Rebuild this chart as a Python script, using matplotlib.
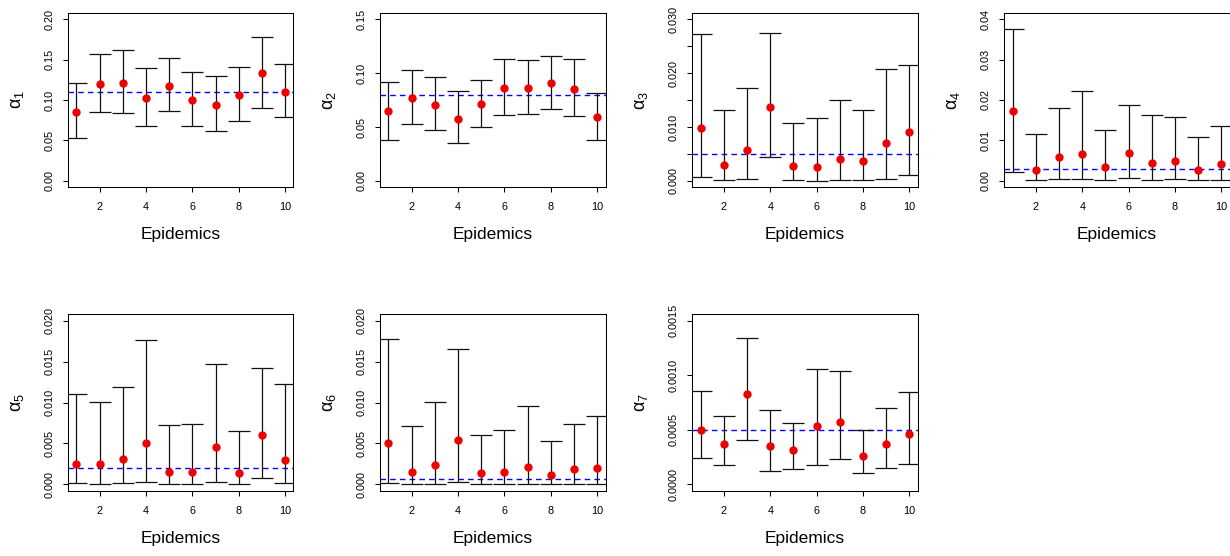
import numpy as np
import matplotlib
matplotlib.use("Agg")
import matplotlib.pyplot as plt

plt.rcParams['font.family'] = ['Liberation Sans', 'DejaVu Sans']

epidemics = np.arange(1, 11)

est_a1 = [0.0848, 0.1193, 0.1214, 0.1029, 0.1177, 0.1000, 0.0942, 0.1058, 0.1329, 0.1103]
lo_a1 = [0.0527, 0.0856, 0.0840, 0.0683, 0.0868, 0.0679, 0.0621, 0.0741, 0.0901, 0.0786]
hi_a1 = [0.1206, 0.1572, 0.1621, 0.1399, 0.1514, 0.1342, 0.1300, 0.1403, 0.1778, 0.1449]

est_a2 = [0.0645, 0.0769, 0.0704, 0.0577, 0.0716, 0.0861, 0.0858, 0.0904, 0.0849, 0.0596]
lo_a2 = [0.0383, 0.0528, 0.0475, 0.0352, 0.0500, 0.0611, 0.0620, 0.0667, 0.0599, 0.0380]
hi_a2 = [0.0914, 0.1025, 0.0960, 0.0830, 0.0938, 0.1133, 0.1117, 0.1160, 0.1130, 0.0818]

est_a3 = [0.00975, 0.00296, 0.00580, 0.01377, 0.00272, 0.00265, 0.00407, 0.00370, 0.00698, 0.00901]
lo_a3 = [0.00074, 0.00012, 0.00037, 0.00438, 0.00012, 0.00006, 0.00012, 0.00012, 0.00043, 0.00111]
hi_a3 = [0.02716, 0.01309, 0.01716, 0.02741, 0.01074, 0.01160, 0.01506, 0.01321, 0.02080, 0.02148]

est_a4 = [0.0172, 0.0028, 0.0060, 0.00675, 0.00354, 0.00683, 0.00444, 0.00494, 0.00263, 0.00412]
lo_a4 = [0.0023, 0.00016, 0.00041, 0.00033, 0.00016, 0.00058, 0.00025, 0.00033, 0.00016, 0.00025]
hi_a4 = [0.03745, 0.01169, 0.01802, 0.02222, 0.01267, 0.01868, 0.01630, 0.01572, 0.01086, 0.01366]

est_a5 = [0.00248, 0.00252, 0.00306, 0.00508, 0.00149, 0.00149, 0.00459, 0.00140, 0.00599, 0.00293]
lo_a5 = [0.00012, 0.00008, 0.00012, 0.00025, 0.00004, 0.00004, 0.00025, 0.00004, 0.00070, 0.00012]
hi_a5 = [0.01099, 0.01008, 0.01186, 0.01764, 0.00719, 0.00731, 0.01467, 0.00653, 0.01426, 0.01227]

est_a6 = [0.00508, 0.00153, 0.00240, 0.00537, 0.00140, 0.00145, 0.00215, 0.00112, 0.00186, 0.00194]
lo_a6 = [0.00020, 0.00004, 0.00008, 0.00025, 0.00004, 0.00004, 0.00008, 0.00004, 0.00004, 0.00004]
hi_a6 = [0.01781, 0.00711, 0.01008, 0.01657, 0.00603, 0.00661, 0.00955, 0.00529, 0.00731, 0.00835]

est_a7 = [0.000502, 0.000366, 0.000831, 0.000353, 0.000316, 0.000536, 0.000570, 0.000260, 0.000372, 0.000462]
lo_a7 = [0.000239, 0.000177, 0.000409, 0.000124, 0.000143, 0.000174, 0.000232, 0.000102, 0.000146, 0.000186]
hi_a7 = [0.000855, 0.000629, 0.001342, 0.000685, 0.000561, 0.001054, 0.001035, 0.000499, 0.000697, 0.000843]

true_values = [0.11, 0.08, 0.005, 0.003, 0.002, 0.0006, 0.0005]
y_max = [0.20, 0.15, 0.030, 0.04, 0.020, 0.020, 0.0015]
y_ticks = [
    [0.00, 0.05, 0.10, 0.15, 0.20],
    [0.00, 0.05, 0.10, 0.15],
    [0.000, 0.005, 0.010, 0.015, 0.020, 0.025, 0.030],
    [0.00, 0.01, 0.02, 0.03, 0.04],
    [0.000, 0.005, 0.010, 0.015, 0.020],
    [0.000, 0.005, 0.010, 0.015, 0.020],
    [0.0000, 0.0005, 0.0010, 0.0015],
]
y_ticklabels = [
    ["0.00", "0.05", "0.10", "0.15", "0.20"],
    ["0.00", "0.05", "0.10", "0.15"],
    ["0.000", "", "0.010", "", "0.020", "", "0.030"],
    ["0.00", "0.01", "0.02", "0.03", "0.04"],
    ["0.000", "0.005", "0.010", "0.015", "0.020"],
    ["0.000", "0.005", "0.010", "0.015", "0.020"],
    ["0.0000", "0.0005", "0.0010", "0.0015"],
]
x_ticks = [2, 4, 6, 8, 10]
ylabels = [r'$\mathregular{\alpha_%d}$' % i for i in range(1, 8)]

estimates = [est_a1, est_a2, est_a3, est_a4, est_a5, est_a6, est_a7]
lowers = [lo_a1, lo_a2, lo_a3, lo_a4, lo_a5, lo_a6, lo_a7]
uppers = [hi_a1, hi_a2, hi_a3, hi_a4, hi_a5, hi_a6, hi_a7]

W, H = 1230, 556
fig = plt.figure(figsize=(W / 100, H / 100), dpi=100)

col_left = [68, 380, 692.3, 1004.3]
ax_w = 225.5
row_top = [12.7, 314.3]
ax_h = [174.6, 176.4]

for i in range(7):
    r, c = divmod(i, 4)
    left = col_left[c] / W
    bottom = 1 - (row_top[r] + ax_h[r]) / H
    ax = fig.add_axes([left, bottom, ax_w / W, ax_h[r] / H])
    est = np.array(estimates[i])
    lo = np.array(lowers[i])
    hi = np.array(uppers[i])
    ax.axhline(true_values[i], color='#0000ff', lw=1.0, ls=(0, (4, 3)), zorder=1)
    ax.errorbar(epidemics, est, yerr=[est - lo, hi - est], fmt='none',
                ecolor='#111111', elinewidth=0.9, capsize=7.9, capthick=0.9, zorder=2)
    ax.plot(epidemics, est, 'o', color='#ee0000', markersize=5, zorder=3)
    ax.set_xlim(1 - 0.36, 10 + 0.36)
    ym = y_max[i]
    ax.set_ylim(-0.04 * ym, ym * 1.04)
    ax.set_xticks(x_ticks)
    ax.set_xticklabels([str(t) for t in x_ticks], fontsize=7.8)
    ax.set_yticks(y_ticks[i])
    ax.set_yticklabels(y_ticklabels[i], fontsize=7.8, rotation=90, va='center')
    ax.tick_params(direction='out', length=3.8, width=0.75)
    ax.tick_params(axis='x', pad=7.0)
    ax.tick_params(axis='y', pad=5.7)
    for s in ax.spines.values():
        s.set_linewidth(0.75)
    ax.set_xlabel('Epidemics', fontsize=12.5)
    ax.xaxis.set_label_coords(0.5, -(235 - 187.3) / ax_h[r])
    ax.xaxis.label.set_va('center')
    ax.set_ylabel(ylabels[i], fontsize=13)
    ax.yaxis.set_label_coords((17 - 68) / ax_w, 0.5)
    ax.yaxis.label.set_va('center')

fig.savefig('out.png', dpi=100)
